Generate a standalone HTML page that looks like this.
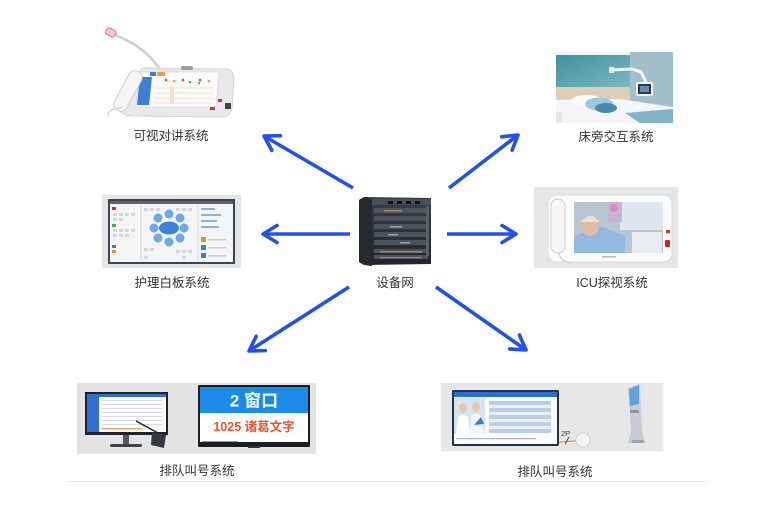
<!DOCTYPE html>
<html>
<head>
<meta charset="utf-8">
<style>
  html,body{margin:0;padding:0;background:#fff;}
  svg{display:block;}
  text{font-family:"Liberation Sans","Noto Sans CJK SC",sans-serif;}
</style>
</head>
<body>
<svg width="780" height="508" viewBox="0 0 780 508" xmlns="http://www.w3.org/2000/svg">
  <defs>
    <marker id="ah" markerUnits="userSpaceOnUse" markerWidth="22" markerHeight="22" viewBox="0 0 22 22" refX="19" refY="11" orient="auto">
      <path d="M5,2.5 L19,11 L5,19.5" fill="none" stroke="#2150ee" stroke-width="3.6" stroke-linecap="round" stroke-linejoin="round"/>
    </marker>
    <linearGradient id="wp" x1="0" y1="0" x2="1" y2="1">
      <stop offset="0" stop-color="#3f8f9c"/>
      <stop offset="1" stop-color="#7ab8c0"/>
    </linearGradient>
    <linearGradient id="srv" x1="0" y1="0" x2="0" y2="1">
      <stop offset="0" stop-color="#3a3e46"/>
      <stop offset="1" stop-color="#22252b"/>
    </linearGradient>
  </defs>

  <!-- ===== Top-left: video intercom ===== -->
  <g>
    <path d="M112,34 Q142,44 160,69" fill="none" stroke="#cfcfd2" stroke-width="2.5"/>
    <rect x="106" y="29" width="10" height="7" rx="2" fill="#f3c9c9" stroke="#e07a7a" stroke-width="1" transform="rotate(25 111 32)"/>
    <!-- base -->
    <path d="M124,96 L142,68 L226,69 Q234,70 234,80 L232,108 Q231,116 222,117 L132,116 Q118,115 120,106 Z" fill="#e8e9ec" stroke="#d2d3d6" stroke-width="1"/>
    <!-- screen -->
    <polygon points="140,72 219,72 216,107 136,107" fill="#fbfbfb" stroke="#d8d8d8" stroke-width="0.8"/>
    <polygon points="140,77 152,77 149,105 137,105" fill="#3d7fd6"/>
    <rect x="150" y="72" width="6" height="4" fill="#3d7fd6"/>
    <rect x="157" y="72" width="8" height="4" fill="#f39a3b"/>
    <g fill="#e44">
      <circle cx="166" cy="80" r="1.3"/><circle cx="183" cy="80" r="1.3"/><circle cx="200" cy="80" r="1.3"/>
    </g>
    <circle cx="174" cy="81" r="1.3" fill="#f39a3b"/>
    <circle cx="190" cy="82" r="1.3" fill="#3aa6e0"/>
    <circle cx="199" cy="83" r="1.3" fill="#4cbf6a"/>
    <circle cx="209" cy="81" r="1.3" fill="#f39a3b"/>
    <g stroke="#f0d6b8" stroke-width="0.8">
      <line x1="155" y1="88" x2="213" y2="88"/><line x1="155" y1="93" x2="213" y2="93"/>
      <line x1="154" y1="98" x2="212" y2="98"/><line x1="154" y1="103" x2="212" y2="103"/>
    </g>
    <rect x="170" y="86" width="4" height="18" fill="#f6e2c8"/>
    <!-- camera -->
    <rect x="181" y="66" width="12" height="4" rx="2" fill="#9a9ea6"/>
    <!-- handset -->
    <rect x="121" y="69" width="14" height="44" rx="7" fill="#f5f5f6" stroke="#cfcfd3" stroke-width="1" transform="rotate(28 128 91)"/>
    <path d="M122,108 Q108,108 108,116" fill="none" stroke="#d0d0d3" stroke-width="1.2"/>
    <rect x="218" y="99" width="4" height="3" fill="#e23030"/>
    <rect x="210" y="107" width="5" height="3" fill="#e23030"/>
    <rect x="225" y="103" width="6" height="6" fill="#444"/>
  </g>

  <!-- ===== Top-right: bedside ===== -->
  <g>
    <rect x="556" y="52" width="117" height="71" fill="#c9d3d8"/>
    <rect x="556" y="52" width="74" height="35" fill="url(#wp)"/>
    <rect x="556" y="52" width="74" height="3" fill="#eef3f4"/>
    <rect x="630" y="52" width="43" height="71" fill="#a3bfcc"/>
    <rect x="556" y="87" width="74" height="14" fill="#dccfba"/>
    <polygon points="556,100 620,99 673,107 673,123 556,123" fill="#f3f5f7"/>
    <ellipse cx="587" cy="101" rx="16" ry="6" fill="#fbfbfb"/>
    <ellipse cx="599" cy="104" rx="14" ry="6.5" fill="#9cc9db"/>
    <ellipse cx="606" cy="108" rx="11" ry="5" fill="#4489b0"/>
    <polygon points="625,113 673,109 673,123 640,123" fill="#82b4c8"/>
    <rect x="556" y="112" width="6" height="11" fill="#e6e6e6"/>
    <polyline points="611,70 632,69 641,72 646,82" fill="none" stroke="#f2f2f2" stroke-width="3"/>
    <rect x="609" y="67" width="5" height="6" fill="#eaeaea"/>
    <rect x="636" y="82" width="17" height="14" rx="1.5" fill="#f2f2f2"/>
    <rect x="638" y="84" width="13" height="10" fill="#2f3a48"/>
    <rect x="640" y="86" width="9" height="6" fill="#5d8fb6"/>
  </g>

  <!-- ===== Middle-left: whiteboard ===== -->
  <g>
    <rect x="102" y="195" width="139" height="73" fill="#e5e5e5"/>
    <rect x="108" y="199" width="127" height="65" fill="#3c4550"/>
    <rect x="110" y="201" width="123" height="61" fill="#f3f5f7"/>
    <rect x="110" y="201" width="123" height="3" fill="#5b6470"/>
    <line x1="141" y1="205" x2="141" y2="261" stroke="#cfd6de" stroke-width="0.8"/>
    <line x1="198" y1="205" x2="198" y2="261" stroke="#cfd6de" stroke-width="0.8"/>
    <g fill="#d3d6da">
      <rect x="113" y="213" width="4" height="3"/><rect x="119" y="213" width="4" height="3"/><rect x="125" y="213" width="4" height="3"/><rect x="131" y="213" width="4" height="3"/>
      <rect x="113" y="218" width="4" height="3"/><rect x="119" y="218" width="4" height="3"/>
      <rect x="113" y="229" width="4" height="3"/><rect x="119" y="229" width="4" height="3"/><rect x="125" y="229" width="4" height="3"/><rect x="131" y="229" width="4" height="3"/>
      <rect x="113" y="234" width="4" height="3"/><rect x="119" y="234" width="4" height="3"/><rect x="125" y="234" width="4" height="3"/>
      <rect x="144" y="208" width="4" height="3"/><rect x="150" y="208" width="4" height="3"/><rect x="156" y="208" width="4" height="3"/><rect x="176" y="208" width="4" height="3"/><rect x="182" y="208" width="4" height="3"/><rect x="188" y="208" width="4" height="3"/>
      <rect x="144" y="248" width="4" height="3"/><rect x="150" y="248" width="4" height="3"/><rect x="176" y="250" width="4" height="3"/><rect x="182" y="250" width="4" height="3"/><rect x="188" y="250" width="4" height="3"/>
      <rect x="144" y="256" width="4" height="3"/><rect x="182" y="256" width="4" height="3"/>
    </g>
    <rect x="112" y="207" width="4" height="3" fill="#e02a2a"/>
    <rect x="112" y="224" width="4" height="3" fill="#2dbb4f"/>
    <rect x="112" y="245" width="4" height="3" fill="#3a7fd6"/>
    <rect x="112" y="250" width="4" height="3" fill="#f08a24"/>
    <g fill="#6ea8ea">
      <circle cx="169" cy="214" r="4.5"/><circle cx="180" cy="218" r="4.5"/><circle cx="184" cy="228" r="4.5"/>
      <circle cx="180" cy="238" r="4.5"/><circle cx="169" cy="242" r="4.5"/><circle cx="158" cy="238" r="4.5"/>
      <circle cx="154" cy="228" r="4.5"/><circle cx="158" cy="218" r="4.5"/>
    </g>
    <ellipse cx="169" cy="228" rx="10" ry="6.5" fill="#3c82d8"/>
    <g fill="#8fb1d8">
      <rect x="201" y="208" width="14" height="2"/><rect x="201" y="214" width="20" height="2"/><rect x="201" y="220" width="16" height="2"/><rect x="201" y="226" width="18" height="2"/>
    </g>
    <rect x="201" y="237" width="5" height="5" fill="#f08a24"/>
    <rect x="201" y="245" width="5" height="5" fill="#3a7fd6"/>
    <rect x="201" y="253" width="5" height="5" fill="#3a7fd6"/>
    <g fill="#c5cbd2"><rect x="208" y="239" width="18" height="1.5"/><rect x="208" y="247" width="18" height="1.5"/><rect x="208" y="255" width="18" height="1.5"/></g>
  </g>

  <!-- ===== Middle-right: ICU visit ===== -->
  <g>
    <rect x="534" y="187" width="144" height="81" fill="#e6e6e6"/>
    <rect x="548" y="195" width="124" height="67" rx="8" fill="#fbfbfb" stroke="#dcdcdc" stroke-width="1"/>
    <rect x="551" y="199" width="14" height="54" rx="7" fill="#f6f6f6" stroke="#cfcfcf" stroke-width="1"/>
    <path d="M559,253 Q560,262 572,263" fill="none" stroke="#ccc" stroke-width="1.2"/>
    <rect x="574" y="202" width="89" height="51" fill="#b9c6d2"/>
    <rect x="620" y="202" width="43" height="28" fill="#dfe7ee"/>
    <rect x="608" y="202" width="14" height="20" fill="#c9b2d6"/>
    <circle cx="614" cy="208" r="4" fill="#d78bb8"/>
    <polygon points="574,236 600,226 625,236 625,253 574,253" fill="#92badf"/>
    <ellipse cx="590" cy="226" rx="9" ry="10" fill="#dcbca6"/>
    <path d="M581,222 Q590,210 600,222" fill="#e9e3d6"/>
    <rect x="632" y="232" width="30" height="21" fill="#e8ecf0"/>
    <rect x="666" y="230" width="4" height="3" fill="#e03030"/>
    <rect x="665" y="240" width="5" height="7" rx="1" fill="#e02020"/>
    <rect x="602" y="256" width="14" height="1.5" fill="#bbb"/>
  </g>

  <!-- ===== Center: server ===== -->
  <g>
    <polygon points="359,200 364,197 431,198 431,264 364,265 359,262" fill="url(#srv)"/>
    <polygon points="359,200 364,197 372,199 372,266 364,265 359,262" fill="#26292e"/>
    <rect x="372" y="199" width="59" height="6" fill="#4a4e56"/>
    <rect x="388" y="201" width="5" height="3" fill="#111"/><rect x="397" y="201" width="5" height="3" fill="#111"/><rect x="406" y="201" width="5" height="3" fill="#111"/><rect x="415" y="201" width="5" height="3" fill="#111"/>
    <g fill="#4d525b">
      <rect x="374" y="208" width="54" height="5"/><rect x="374" y="216" width="54" height="5"/>
      <rect x="374" y="224" width="54" height="5"/><rect x="374" y="232" width="54" height="5"/>
      <rect x="374" y="240" width="54" height="5"/><rect x="374" y="249" width="54" height="4"/><rect x="374" y="255" width="54" height="4"/>
    </g>
    <g fill="#a08a60"><rect x="384" y="210" width="18" height="1.5"/><rect x="380" y="251" width="42" height="1.5"/><rect x="380" y="257" width="42" height="1.2"/></g>
    <g fill="#9aa0a8"><rect x="390" y="226" width="12" height="1.5"/><rect x="388" y="234" width="10" height="1.5"/><rect x="400" y="242" width="10" height="1.5"/></g>
    <rect x="426" y="206" width="3" height="50" fill="#5a5f68"/>
  </g>

  <!-- ===== Bottom-left: queue system ===== -->
  <g>
    <rect x="77" y="383" width="239" height="71" fill="#e3e3e3"/>
    <rect x="85" y="392" width="83" height="43" fill="#1f2226"/>
    <rect x="87" y="394" width="79" height="38" fill="#fcfcfc"/>
    <rect x="87" y="394" width="79" height="3" fill="#2f6fd0"/>
    <rect x="87" y="397" width="12" height="35" fill="#2f6fd0"/>
    <g fill="#d8dce2">
      <rect x="102" y="400" width="60" height="1"/><rect x="102" y="404" width="60" height="1"/><rect x="102" y="408" width="60" height="1"/>
      <rect x="102" y="412" width="60" height="1"/><rect x="102" y="416" width="60" height="1"/><rect x="102" y="420" width="60" height="1"/><rect x="102" y="424" width="60" height="1"/>
    </g>
    <rect x="102" y="428" width="40" height="1.5" fill="#f3a46a"/>
    <rect x="123" y="435" width="6" height="9" fill="#555a60"/>
    <rect x="110" y="444" width="32" height="3" rx="1.5" fill="#3f4348"/>
    <line x1="136" y1="421" x2="158" y2="433" stroke="#2a2a2a" stroke-width="1.5"/>
    <polygon points="152,432 166,435 164,448 151,445" fill="#35383c"/>
    <rect x="198" y="385" width="112" height="62" rx="1" fill="#1b1d20"/>
    <rect x="200" y="387" width="108" height="55" fill="#fdfdfd"/>
    <rect x="200" y="387" width="108" height="26" fill="#1a8be8"/>
    <text x="254" y="401" font-size="17" font-weight="bold" fill="#fff" text-anchor="middle" dominant-baseline="central">2 窗口</text>
    <text x="254" y="427" font-size="12.5" font-weight="bold" fill="#e8552d" text-anchor="middle" dominant-baseline="central">1025 诸葛文字</text>
    <rect x="202" y="441" width="36" height="1" fill="#999"/>
    <rect x="248" y="446" width="12" height="2" fill="#333"/>
  </g>

  <!-- ===== Bottom-right: queue system ===== -->
  <g>
    <rect x="441" y="383" width="221" height="68" fill="#e7e7e7"/>
    <rect x="662" y="383" width="2" height="68" fill="#f3f3f3"/>
    <rect x="452" y="390" width="107" height="56" rx="1.5" fill="#243248"/>
    <rect x="454" y="392" width="103" height="52" fill="#fbfcfe"/>
    <rect x="454" y="392" width="103" height="5" fill="#2b6fd6"/>
    <rect x="454" y="398" width="31" height="36" fill="#d6e4ef"/>
    <ellipse cx="463" cy="408" rx="4" ry="5" fill="#e6c7b0"/>
    <ellipse cx="476" cy="407" rx="4" ry="5" fill="#e6c7b0"/>
    <path d="M456,434 L458,417 Q463,413 468,417 L470,434 Z" fill="#ffffff"/>
    <path d="M470,434 L471,416 Q476,412 482,416 L484,434 Z" fill="#f2f6fa"/>
    <polygon points="474,425 481,417 484,424" fill="#3a7ad0"/>
    <g fill="#b9cde6">
      <rect x="489" y="401" width="62" height="4"/><rect x="489" y="408" width="62" height="4"/>
      <rect x="489" y="415" width="62" height="4"/><rect x="489" y="422" width="62" height="4"/><rect x="489" y="429" width="62" height="4"/>
    </g>
    <g fill="#eaf0f7">
      <rect x="489" y="405" width="62" height="3"/><rect x="489" y="412" width="62" height="3"/><rect x="489" y="419" width="62" height="3"/><rect x="489" y="426" width="62" height="3"/>
    </g>
    <rect x="456" y="438" width="80" height="1.2" fill="#b0b6be"/>
    <line x1="559" y1="442" x2="576" y2="441" stroke="#e89448" stroke-width="1.2"/>
    <text x="561" y="436" font-size="7.5" fill="#333">2P</text>
    <line x1="565" y1="444" x2="569" y2="437" stroke="#333" stroke-width="0.8"/>
    <circle cx="583" cy="440" r="7" fill="#f5f5f5" stroke="#cfcfcf" stroke-width="1"/>
    <polygon points="628,388 640,384 642,430 645,443 628,443 631,430" fill="#c8ccd2"/>
    <polygon points="629,389 639,385 639,404 630,406" fill="#5fa0e2"/>
    <rect x="630" y="410" width="9" height="3" fill="#8d939b"/>
    <rect x="632" y="440" width="12" height="3" fill="#9ea3aa"/>
  </g>

  <!-- ===== Arrows ===== -->
  <g stroke="#2150ee" stroke-width="3.6" fill="none" stroke-linecap="butt">
    <line x1="353" y1="188" x2="264" y2="136" marker-end="url(#ah)"/>
    <line x1="449" y1="188" x2="518" y2="135" marker-end="url(#ah)"/>
    <line x1="350" y1="234" x2="263" y2="234" marker-end="url(#ah)"/>
    <line x1="447" y1="234" x2="516" y2="234" marker-end="url(#ah)"/>
    <line x1="349" y1="287" x2="249" y2="351" marker-end="url(#ah)"/>
    <line x1="436" y1="287" x2="526" y2="350" marker-end="url(#ah)"/>
  </g>

  <!-- ===== Labels ===== -->
  <g font-size="12.5" fill="#333" text-anchor="middle" dominant-baseline="central">
    <text x="171" y="136">可视对讲系统</text>
    <text x="616" y="137">床旁交互系统</text>
    <text x="172" y="283">护理白板系统</text>
    <text x="612" y="283">ICU探视系统</text>
    <text x="395" y="283">设备网</text>
    <text x="197" y="471">排队叫号系统</text>
    <text x="555" y="472">排队叫号系统</text>
  </g>

  <!-- bottom divider -->
  <rect x="67" y="481" width="640" height="1" fill="#ebebeb"/>
</svg>
</body>
</html>
